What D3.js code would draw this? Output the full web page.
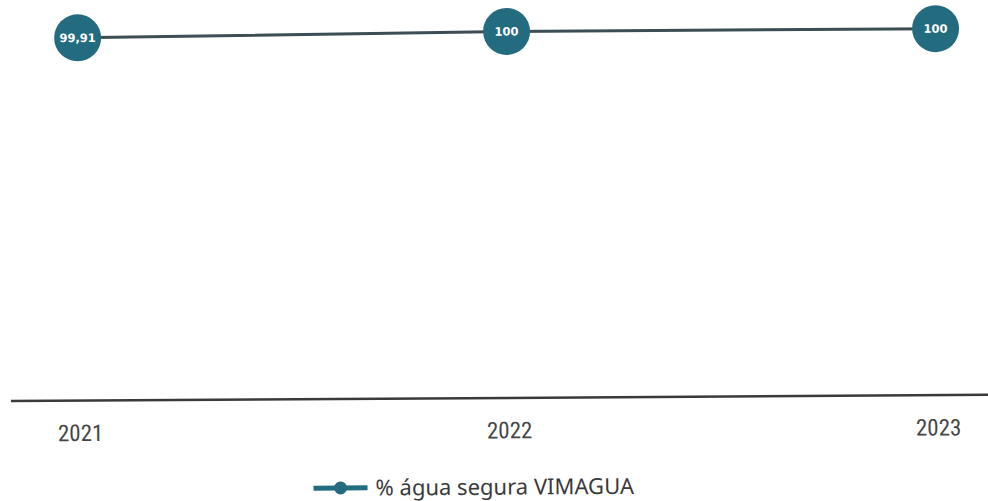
<!DOCTYPE html>
<html>
<head>
<meta charset="utf-8">
<script src="https://cdn.jsdelivr.net/npm/d3@7/dist/d3.min.js"></script>
<style>
  html, body { margin: 0; padding: 0; background: #fff; }
  svg { display: block; }
</style>
</head>
<body>
<svg id="chart" width="988" height="501"></svg>
<script>
// Percentage of safe water supplied, per year
const years = ["2021", "2022", "2023"];
const safeWater = [99.91, 100, 100];
const valueLabels = ["99,91", "100", "100"];
const seriesName = "% água segura VIMAGUA";

const W = 988, H = 501;
const teal = "#236c80";
const lineColor = "#3d4d54";
const labelFont = "'Liberation Sans Narrow', 'Roboto Condensed', 'DejaVu Sans Condensed', sans-serif";
const legendFont = "'Noto Sans', 'Open Sans', sans-serif";

const svg = d3.select("#chart");
// the whole drawing sits on a very slight slant
const root = svg.append("g").attr("transform", `rotate(-0.37, ${W / 2}, ${H / 2})`);

const x = d3.scalePoint().domain(years).range([79, 937]);
const y = d3.scaleLinear().domain([91, 100]).range([398, 31.5]);

const data = years.map((yr, i) => ({ year: yr, value: safeWater[i], label: valueLabels[i] }));

// baseline (category axis)
const xAxis = d3.axisBottom(x).tickSize(0).tickPadding(24);
const ax = root.append("g").attr("transform", `translate(0, ${y(91)})`).call(xAxis);
ax.select(".domain").remove();
ax.append("line")
  .attr("x1", 10).attr("x2", W)
  .attr("y1", 0).attr("y2", 0)
  .attr("stroke", "#3a3a3a").attr("stroke-width", 2.5);
ax.selectAll(".tick text")
  .attr("font-family", labelFont)
  .attr("font-size", 23)
  .attr("fill", "#454545");

// series line
root.append("path")
  .datum(data)
  .attr("fill", "none")
  .attr("stroke", lineColor)
  .attr("stroke-width", 3)
  .attr("d", d3.line().x(d => x(d.year)).y(d => y(d.value)));

// markers with value labels
const pts = root.selectAll(".pt").data(data).join("g")
  .attr("class", "pt")
  .attr("transform", d => `translate(${x(d.year)}, ${y(d.value)})`);
pts.append("circle").attr("r", 23.5).attr("fill", teal);
pts.append("text")
  .attr("text-anchor", "middle")
  .attr("dy", "0.36em")
  .attr("font-family", "'DejaVu Sans', sans-serif")
  .attr("font-weight", "bold")
  .attr("font-size", 11.5)
  .attr("fill", "#fff")
  .text(d => d.label);

// legend
const lg = root.append("g").attr("transform", "translate(312, 487)");
lg.append("line").attr("x1", 0).attr("x2", 54).attr("y1", 0).attr("y2", 0)
  .attr("stroke", teal).attr("stroke-width", 5);
lg.append("circle").attr("cx", 27).attr("cy", 0).attr("r", 6.5).attr("fill", teal);
lg.append("text")
  .attr("x", 62).attr("dy", "0.35em")
  .attr("font-family", legendFont)
  .attr("font-size", 22)
  .attr("fill", "#3a3a3a")
  .text(seriesName);
</script>
</body>
</html>
